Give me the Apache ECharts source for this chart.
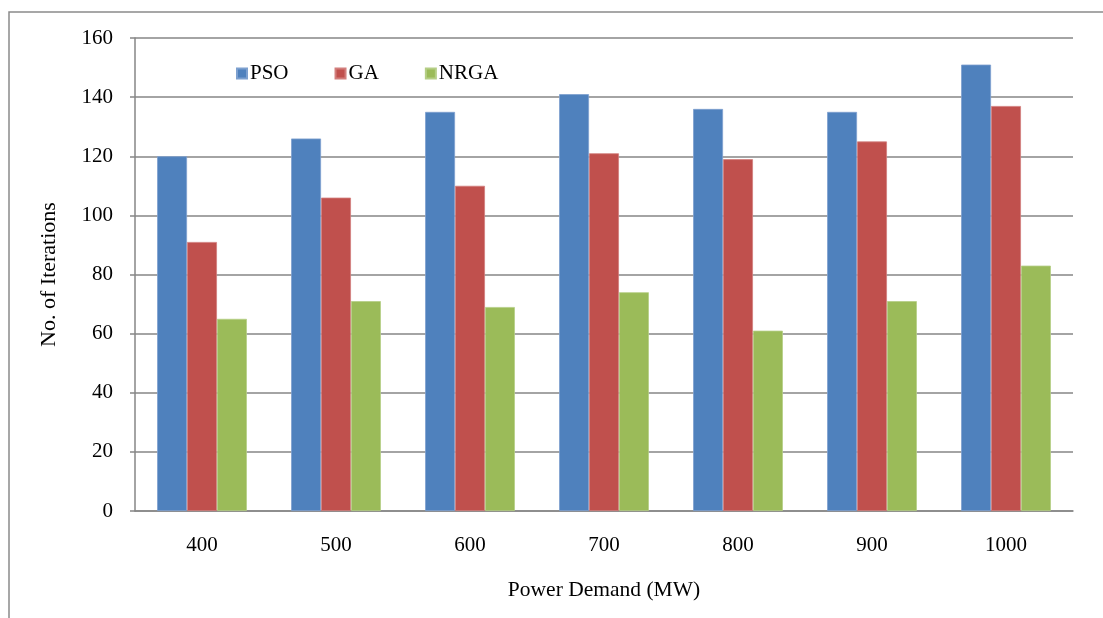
<!DOCTYPE html>
<html>
<head>
<meta charset="utf-8">
<script src="https://cdn.jsdelivr.net/npm/echarts@6/dist/echarts.min.js"></script>
<style>
html,body{margin:0;padding:0;background:#fff;}
#chart{width:1103px;height:618px;}
</style>
</head>
<body>
<div id="chart"></div>
<script>
const categories = ['400', '500', '600', '700', '800', '900', '1000'];
const psoValues  = [120, 126, 135, 141, 136, 135, 151];
const gaValues   = [91, 106, 110, 121, 119, 125, 137];
const nrgaValues = [65, 71, 69, 74, 61, 71, 83];
const seriesNames = ['PSO', 'GA', 'NRGA'];
const colors = ['#4F81BD', '#C0504D', '#9BBB59'];
const borderColors = ['#7DA0CF', '#D27E7C', '#B5CE86'];

const font = 'Liberation Serif';
const chart = echarts.init(document.getElementById('chart'), null, {renderer: 'canvas'});
const data = [psoValues, gaValues, nrgaValues];

chart.setOption({
  animation: false,
  textStyle: {fontFamily: font},
  graphic: [{
    type: 'rect',
    shape: {x: 9, y: 12, width: 1200, height: 700},
    style: {fill: 'none', stroke: '#8A8A8A', lineWidth: 1.5},
    silent: true, z: -1
  }],
  legend: {
    data: seriesNames,
    left: 236, top: 63,
    padding: 0,
    itemWidth: 10, itemHeight: 10, itemGap: 46,
    icon: 'rect',
    textStyle: {fontFamily: font, fontSize: 21, color: '#000', padding: [0,0,0,-2]}
  },
  grid: {left: 135, right: 30, top: 38, bottom: 107, containLabel: false},
  xAxis: {
    type: 'category',
    data: categories,
    name: 'Power Demand (MW)',
    nameLocation: 'middle',
    nameGap: 68,
    nameTextStyle: {fontFamily: font, fontSize: 21.5, color: '#000'},
    axisLine: {lineStyle: {color: '#868686', width: 1.5}},
    axisTick: {show: false},
    axisLabel: {fontFamily: font, fontSize: 21, color: '#000', margin: 24}
  },
  yAxis: {
    type: 'value',
    min: 0, max: 160, interval: 20,
    name: 'No. of Iterations',
    nameLocation: 'middle',
    nameGap: 75,
    nameTextStyle: {fontFamily: font, fontSize: 22, color: '#000'},
    axisLine: {show: true, lineStyle: {color: '#868686', width: 1.5}},
    axisTick: {show: true, length: 5, lineStyle: {color: '#868686', width: 1.5}},
    axisLabel: {fontFamily: font, fontSize: 21, color: '#000', margin: 22},
    splitLine: {lineStyle: {color: '#868686', width: 1.5}}
  },
  series: seriesNames.map((n, i) => ({
    name: n,
    type: 'bar',
    data: data[i],
    barGap: '0%',
    barCategoryGap: '33%',
    itemStyle: {color: colors[i], borderColor: borderColors[i], borderWidth: 0.8}
  }))
});
</script>
</body>
</html>
